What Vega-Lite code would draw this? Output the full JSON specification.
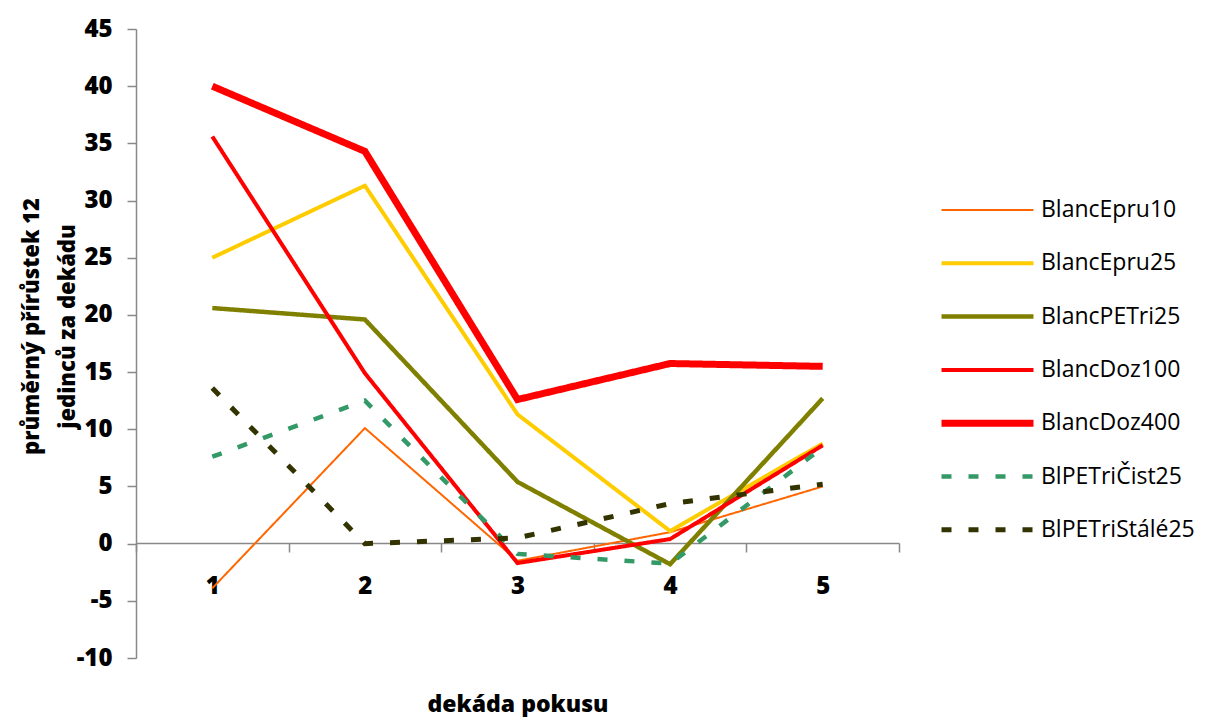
{
  "$schema": "https://vega.github.io/schema/vega-lite/v6.json",
  "autosize": {"type": "none"},
  "padding": {"left": 136, "top": 29, "right": 309, "bottom": 59},
  "width": 763,
  "height": 629,
  "background": "white",
  "config": {
    "view": {"stroke": null},
    "font": "Open Sans"
  },
  "data": {
    "values": [
      {"s": "BlancEpru10", "d": "1", "v": -3.9},
      {"s": "BlancEpru10", "d": "2", "v": 10.1},
      {"s": "BlancEpru10", "d": "3", "v": -1.5},
      {"s": "BlancEpru10", "d": "4", "v": 1.0},
      {"s": "BlancEpru10", "d": "5", "v": 5.0},
      {"s": "BlancEpru25", "d": "1", "v": 25.0},
      {"s": "BlancEpru25", "d": "2", "v": 31.3},
      {"s": "BlancEpru25", "d": "3", "v": 11.3},
      {"s": "BlancEpru25", "d": "4", "v": 1.1},
      {"s": "BlancEpru25", "d": "5", "v": 8.75},
      {"s": "BlancPETri25", "d": "1", "v": 20.6},
      {"s": "BlancPETri25", "d": "2", "v": 19.6},
      {"s": "BlancPETri25", "d": "3", "v": 5.4},
      {"s": "BlancPETri25", "d": "4", "v": -1.8},
      {"s": "BlancPETri25", "d": "5", "v": 12.7},
      {"s": "BlancDoz100", "d": "1", "v": 35.6},
      {"s": "BlancDoz100", "d": "2", "v": 14.9},
      {"s": "BlancDoz100", "d": "3", "v": -1.7},
      {"s": "BlancDoz100", "d": "4", "v": 0.4},
      {"s": "BlancDoz100", "d": "5", "v": 8.6},
      {"s": "BlancDoz400", "d": "1", "v": 40.0},
      {"s": "BlancDoz400", "d": "2", "v": 34.3},
      {"s": "BlancDoz400", "d": "3", "v": 12.6},
      {"s": "BlancDoz400", "d": "4", "v": 15.75},
      {"s": "BlancDoz400", "d": "5", "v": 15.5},
      {"s": "BlPETriČist25", "d": "1", "v": 7.6},
      {"s": "BlPETriČist25", "d": "2", "v": 12.5},
      {"s": "BlPETriČist25", "d": "3", "v": -0.9},
      {"s": "BlPETriČist25", "d": "4", "v": -1.75},
      {"s": "BlPETriČist25", "d": "5", "v": 8.4},
      {"s": "BlPETriStálé25", "d": "1", "v": 13.6},
      {"s": "BlPETriStálé25", "d": "2", "v": 0.0},
      {"s": "BlPETriStálé25", "d": "3", "v": 0.5},
      {"s": "BlPETriStálé25", "d": "4", "v": 3.5},
      {"s": "BlPETriStálé25", "d": "5", "v": 5.2}
    ]
  },
  "mark": {"type": "line", "strokeCap": "butt", "strokeJoin": "miter"},
  "encoding": {
    "x": {
      "field": "d", "type": "ordinal", "bandPosition": 0.5,
      "scale": {"type": "band", "paddingInner": 0, "paddingOuter": 0},
      "axis": {
        "title": "dekáda pokusu",
        "offset": -115,
        "labelAngle": 0,
        "domainColor": "#888888",
        "domainWidth": 1.5,
        "tickColor": "#888888",
        "tickWidth": 1.5,
        "tickSize": 9,
        "tickBand": "extent",
        "labelFont": "Open Sans",
        "labelFontWeight": 800,
        "labelFontSize": 24,
        "labelColor": "#000000",
        "labelPadding": 22,
        "titleFont": "Open Sans",
        "titleFontWeight": 800,
        "titleFontSize": 23,
        "titleColor": "#000000",
        "titlePadding": 95
      }
    },
    "y": {
      "field": "v", "type": "quantitative",
      "scale": {"domain": [-10, 45], "nice": false, "zero": false},
      "axis": {
        "values": [-10, -5, 0, 5, 10, 15, 20, 25, 30, 35, 40, 45],
        "labelExpr": "toString(datum.value)",
        "grid": false,
        "domainColor": "#888888",
        "domainWidth": 1.5,
        "tickColor": "#888888",
        "tickWidth": 1.5,
        "tickSize": 9,
        "labelFont": "Open Sans",
        "labelFontWeight": 800,
        "labelFontSize": 24,
        "labelColor": "#000000",
        "labelPadding": 15,
        "title": ["průměrný přírůstek 12", "jedinců za dekádu"],
        "titleFont": "Open Sans",
        "titleFontWeight": 800,
        "titleFontSize": 22,
        "titleColor": "#000000",
        "titleAngle": -90,
        "titleAlign": "center",
        "titleBaseline": "alphabetic",
        "titleLineHeight": 36,
        "titleX": -98,
        "titleY": 297
      }
    },
    "color": {
      "field": "s", "type": "nominal",
      "scale": {
        "domain": ["BlancEpru10", "BlancEpru25", "BlancPETri25", "BlancDoz100", "BlancDoz400", "BlPETriČist25", "BlPETriStálé25"],
        "range": ["#FF6600", "#FFCC00", "#808000", "#FF0000", "#FF0000", "#339966", "#333300"]
      },
      "legend": {
        "title": null,
        "orient": "none",
        "legendX": 802,
        "legendY": 169.5,
        "padding": 0,
        "symbolType": "stroke",
        "symbolSize": 8464,
        "clipHeight": 23,
        "rowPadding": 29.3,
        "labelOffset": 4,
        "labelFont": "Open Sans",
        "labelFontSize": 23,
        "labelColor": "#000000",
        "labelLimit": 400
      }
    },
    "strokeWidth": {
      "field": "s", "type": "nominal",
      "scale": {
        "type": "ordinal",
        "domain": ["BlancEpru10", "BlancEpru25", "BlancPETri25", "BlancDoz100", "BlancDoz400", "BlPETriČist25", "BlPETriStálé25"],
        "range": [2, 4, 4.5, 4, 7, 4.5, 5]
      },
      "legend": null
    },
    "strokeDash": {
      "field": "s", "type": "nominal",
      "scale": {
        "type": "ordinal",
        "domain": ["BlancEpru10", "BlancEpru25", "BlancPETri25", "BlancDoz100", "BlancDoz400", "BlPETriČist25", "BlPETriStálé25"],
        "range": [[1, 0], [1, 0], [1, 0], [1, 0], [1, 0], [10, 17], [10, 17]]
      },
      "legend": null
    },
    "order": {"field": "d"}
  }
}
